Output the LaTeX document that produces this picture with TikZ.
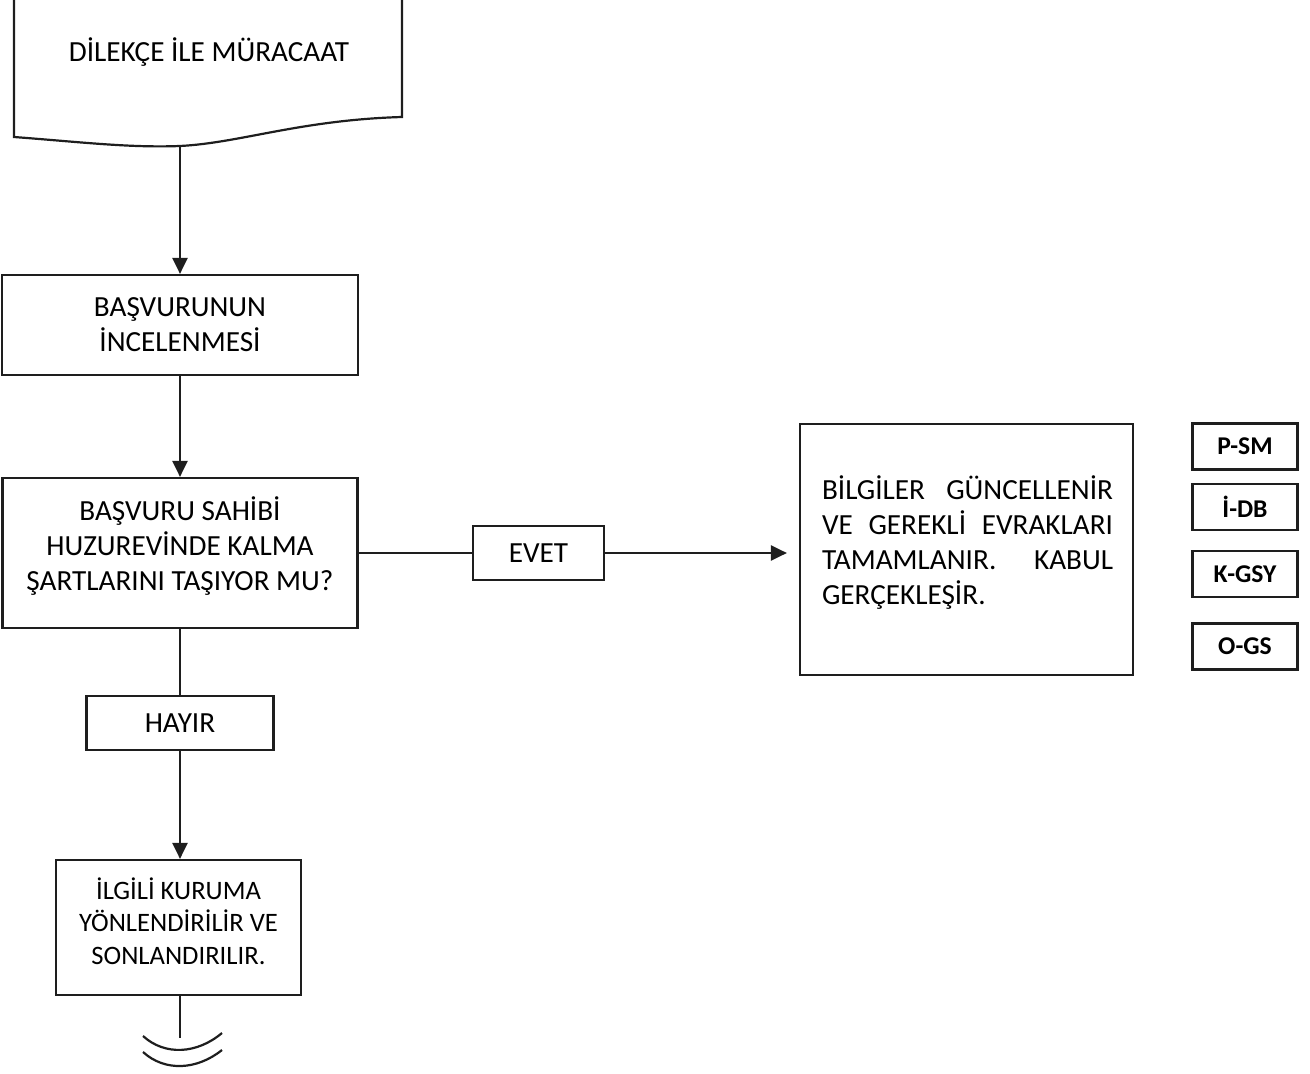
\documentclass[tikz,border=0pt]{standalone}
\usepackage{fontspec}
\setmainfont{Carlito}
\usetikzlibrary{arrows.meta}
\definecolor{FlowInk}{HTML}{1e1e1e}

\begin{document}
\begin{tikzpicture}[x=0.5pt,y=-0.5pt,
    box/.style={draw=FlowInk,line width=1.1pt,inner sep=0pt,align=center,
      font=\fontsize{14.6}{17.5}\selectfont},
    words/.style={inner sep=0pt,align=center,font=\fontsize{14.6}{17.5}\selectfont},
    link/.style={draw=FlowInk,line width=1.1pt},
    flow/.style={link,-{Triangle[length=8pt,width=7.5pt]}},
    tag/.style={draw=FlowInk,line width=1.1pt,inner sep=0pt,minimum width=52.5pt,
      minimum height=23pt,font=\fontsize{12.8}{15}\selectfont\bfseries}]
    \useasboundingbox (0,0) rectangle (1310,1074);
    % document shape at the top
    \node[words] (dilekce) at (209,52) {DİLEKÇE İLE MÜRACAAT};
    \draw[link] (14,-5) -- (14,137) .. controls (80,142) and (130,148) .. (180,146)
      .. controls (240,143) and (300,120) .. (402,117) -- (402,-5);
    \coordinate (dilekceAlt) at (180,146);
    \node[box,minimum width=178pt,minimum height=50pt] (basvuru) at (180,325)
      {BAŞVURUNUN\\İNCELENMESİ};
    \node[box,minimum width=177.5pt,minimum height=75pt] (sart) at (180,553) {};
    \node[words] (sartYazi) at (180,546)
      {BAŞVURU SAHİBİ\\HUZUREVİNDE KALMA\\ŞARTLARINI TAŞIYOR MU?};
    \node[box,minimum width=65.5pt,minimum height=27pt] (evet) at (538.5,553) {EVET};
    \node[box,minimum width=166.5pt,minimum height=125.5pt] (bilgi) at (966.5,549.5) {};
    \node[words,text width=145.5pt,align=left] (bilgiYazi) at (967.5,543)
      {BİLGİLER\hfill GÜNCELLENİR\\VE\hfill GEREKLİ\hfill EVRAKLARI\\TAMAMLANIR.\hfill KABUL\\GERÇEKLEŞİR.};
    \node[box,minimum width=93.5pt,minimum height=27pt] (hayir) at (180,723) {HAYIR};
    \node[box,minimum width=122.5pt,minimum height=67.5pt] (ilgili) at (178.5,927.5) {};
    \node[words,font=\fontsize{13.3}{16.25}\selectfont] (ilgiliYazi) at (178.5,921)
      {İLGİLİ KURUMA\\YÖNLENDİRİLİR VE\\SONLANDIRILIR.};
    \coordinate (son) at (180,1038);
    % codes on the right
    \foreach \y/\code/\name in {446.5/P-SM/psm,507/İ-DB/idb,574/K-GSY/kgsy,646.5/O-GS/ogs} {
      \node[tag] (\name) at (1245,\y) {\code};
    }
    \draw[flow] (dilekceAlt) -- (dilekceAlt |- basvuru.north);
    \draw[flow] (basvuru.south) -- (basvuru.south |- sart.north);
    \draw[link] (sart.east) -- (evet.west);
    \draw[flow,shorten >=6pt] (evet.east) -- (evet.east -| bilgi.west);
    \draw[link] (sart.south) -- (sart.south |- hayir.north);
    \draw[flow] (hayir.south) -- (hayir.south |- ilgili.north);
    \draw[link] (ilgili.south -| son) -- (son);
    % end mark
    \draw[link] (143,1036) .. controls (165,1056) and (197,1054) .. (222,1033);
    \draw[link] (143,1052) .. controls (165,1072) and (197,1070) .. (222,1050);
\end{tikzpicture}
\end{document}
